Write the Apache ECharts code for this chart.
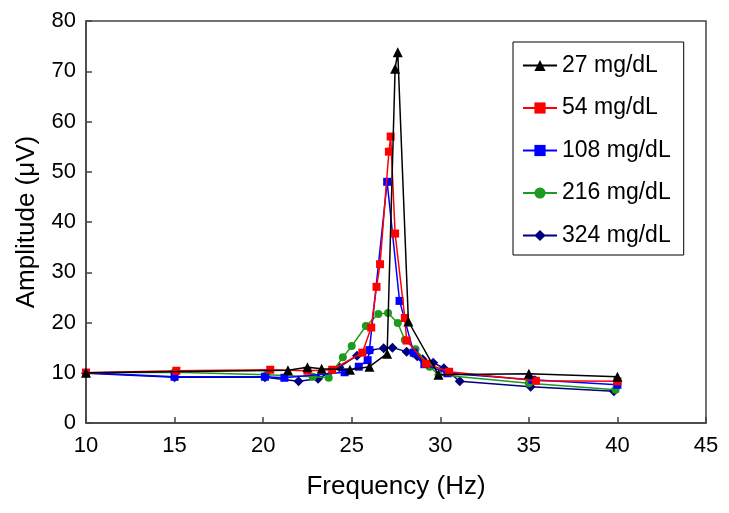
<!DOCTYPE html>
<html>
<head>
<meta charset="utf-8">
<script src="https://cdn.jsdelivr.net/npm/echarts@6/dist/echarts.min.js"></script>
<style>html,body{margin:0;padding:0;background:#fff}#c{width:729px;height:513px}</style>
</head>
<body>
<div id="c"></div>
<script>
const seriesNames = ['27 mg/dL', '54 mg/dL', '108 mg/dL', '216 mg/dL', '324 mg/dL'];
const xTicks = [10, 15, 20, 25, 30, 35, 40, 45];
const yTicks = [0, 10, 20, 30, 40, 50, 60, 70, 80];

const s27 = [[10,10],[21.4,10.5],[22.5,11.1],[23.3,10.8],[24.9,10.6],[26.0,11.2],[27.0,13.8],[27.45,70.5],[27.6,73.8],[28.2,20.2],[29.9,9.6],[35,9.8],[40,9.2]];
const s54 = [[10,10],[15.1,10.4],[20.4,10.6],[22.5,10.4],[23.9,10.6],[25.6,14.0],[26.1,19.0],[26.4,27.1],[26.6,31.6],[27.1,54.0],[27.2,57.0],[27.45,37.7],[28.0,20.9],[28.1,16.4],[29.2,11.8],[30.5,10.2],[35.4,8.4],[40,8.3]];
const s108 = [[10,10],[15.0,9.2],[20.1,9.2],[21.2,9.0],[24.6,10.1],[25.4,11.2],[25.9,12.5],[26.0,14.5],[27.0,48.0],[27.7,24.3],[28.5,14.0],[29.1,11.7],[30.4,9.9],[35.2,8.6],[40,7.6]];
const s216 = [[10,10],[15.0,10.1],[20.2,9.6],[22.8,9.2],[23.7,9.0],[24.5,13.1],[25.0,15.3],[25.8,19.3],[26.5,21.7],[27.05,21.9],[27.6,19.9],[28.0,16.5],[28.6,14.7],[29.4,11.2],[29.9,9.6],[35,7.9],[39.9,6.6]];
const s324 = [[10,9.9],[15,9.1],[20.1,9.1],[22.0,8.3],[23.1,8.8],[24.3,11.1],[25.3,13.4],[26.0,14.5],[26.8,14.9],[27.3,15.0],[28.1,14.2],[28.45,14.0],[28.7,13.3],[29.0,12.7],[29.6,12.0],[30.2,10.9],[31.1,8.3],[35.1,7.2],[39.8,6.3]];

const datasets = [s27, s54, s108, s216, s324];
const colors = ['#000000', '#ff0000', '#0000ff', '#1e9a1e', '#00007f'];
const symbols = ['triangle', 'rect', 'rect', 'circle', 'diamond'];
const sizes = [10, 8, 8, 8, 10];

const chart = echarts.init(document.getElementById('c'), null, {renderer: 'canvas'});
const font = 'Liberation Sans, Arial, sans-serif';
chart.setOption({
  animation: false,
  color: colors,
  grid: {left: 86, right: 23, top: 21, bottom: 90, show: true, borderColor: '#444', borderWidth: 1.5, backgroundColor: 'transparent'},
  legend: {
    orient: 'vertical', left: 513, top: 42,
    data: seriesNames,
    itemWidth: 34, itemHeight: 14, itemGap: 19.5,
    padding: [12, 13, 8, 9],
    borderColor: '#000', borderWidth: 1,
    textStyle: {fontFamily: font, fontSize: 23, color: '#000'}
  },
  xAxis: {
    type: 'value', min: xTicks[0], max: xTicks[xTicks.length - 1], interval: 5,
    name: 'Frequency (Hz)', nameLocation: 'middle', nameGap: 51,
    nameTextStyle: {fontFamily: font, fontSize: 26, color: '#000'},
    axisLine: {show: true, lineStyle: {color: '#444', width: 1.5}},
    axisTick: {show: true, inside: true, length: 6, lineStyle: {color: '#444', width: 1.5}},
    axisLabel: {fontFamily: font, fontSize: 22, color: '#000', margin: 12},
    splitLine: {show: false}
  },
  yAxis: {
    type: 'value', min: yTicks[0], max: yTicks[yTicks.length - 1], interval: 10,
    name: 'Amplitude (μV)', nameLocation: 'middle', nameGap: 46,
    nameTextStyle: {fontFamily: font, fontSize: 26, color: '#000'},
    axisLine: {show: true, lineStyle: {color: '#444', width: 1.5}},
    axisTick: {show: true, inside: true, length: 6, lineStyle: {color: '#444', width: 1.5}},
    axisLabel: {fontFamily: font, fontSize: 22, color: '#000', margin: 10},
    splitLine: {show: false}
  },
  series: datasets.map((d, i) => ({
    name: seriesNames[i], type: 'line', data: d,
    symbol: symbols[i], symbolSize: sizes[i], showAllSymbol: true,
    lineStyle: {color: colors[i], width: 1.5},
    itemStyle: {color: colors[i]},
    z: 10 - i
  }))
});
</script>
</body>
</html>
